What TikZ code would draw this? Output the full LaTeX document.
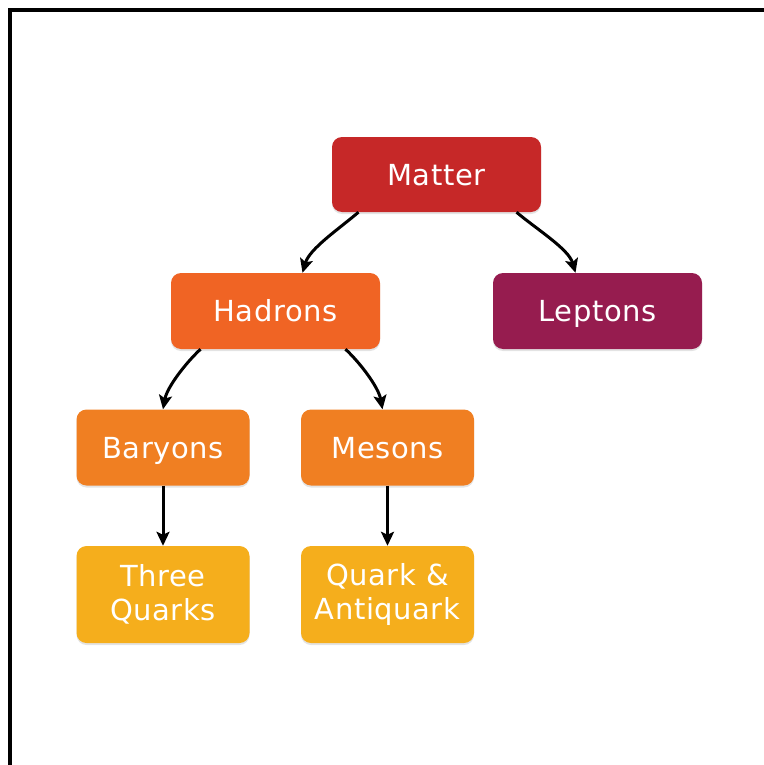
\documentclass[tikz,border=0pt]{standalone}
\usepackage{fontspec}
\setmainfont{DejaVu Sans}[LetterSpace=2]
\usetikzlibrary{arrows.meta,shadows,calc}
\definecolor{cMatter}{RGB}{198,40,40}
\definecolor{cHadron}{RGB}{240,100,36}
\definecolor{cLepton}{RGB}{150,28,79}
\definecolor{cMid}{RGB}{240,127,34}
\definecolor{cQuark}{RGB}{245,174,28}
\tikzset{
  box/.style={rounded corners=10pt, text=white, align=center,
    font=\fontsize{29}{34}\selectfont, inner sep=0pt,
    drop shadow={opacity=0.22, shadow xshift=0pt, shadow yshift=-2pt}},
  oneline/.style={box, text height=21pt, text depth=0pt},
  wide/.style={oneline, minimum width=209pt, minimum height=76pt},
  narrow/.style={oneline, minimum width=173pt, minimum height=76pt},
  tall/.style={box, minimum width=173pt, minimum height=97pt},
  link/.style={-{Stealth[length=14pt,width=13pt,inset=3pt]}, line width=3pt, black}
}
\begin{document}
\begin{tikzpicture}[x=1pt,y=-1pt]
  \useasboundingbox (0,0) rectangle (763,765);
  % outer frame (runs past the right and bottom edges)
  \draw[line width=4pt] (10,10) rectangle (790,790);

  \node[wide, fill=cMatter, minimum height=75pt] (matter) at (436.5,174.5) {Matter};
  \node[wide, fill=cHadron] (hadrons) at (275.5,311) {Hadrons};
  \node[wide, fill=cLepton] (leptons) at (597.5,311) {Leptons};
  \node[narrow, fill=cMid] (baryons) at (163,447.5) {Baryons};
  \node[narrow, fill=cMid] (mesons) at (387.5,447.5) {Mesons};
  \node[tall, fill=cQuark] (three) at (163,594.5) {Three\\Quarks};
  \node[tall, fill=cQuark] (qaq) at (387.5,594.5) {Quark \&\\Antiquark};

  % curved links: one smooth bend each, steepening towards the target
  \draw[link] ($(matter.south)+(-78,0)$) .. controls ($(matter.south)+(-98,17)$)
      and ($(hadrons.north)+(34,-24)$) .. ($(hadrons.north)+(27,0)$);
  \draw[link] ($(matter.south)+(80,0)$) .. controls ($(matter.south)+(100,17)$)
      and ($(leptons.north)+(-29,-24)$) .. ($(leptons.north)+(-22,0)$);
  \draw[link] ($(hadrons.south)+(-75,0)$) .. controls ($(hadrons.south)+(-90,14)$)
      and ($(baryons.north)+(4,-22)$) .. (baryons.north);
  \draw[link] ($(hadrons.south)+(70,0)$) .. controls ($(hadrons.south)+(85,14)$)
      and ($(mesons.north)+(-9,-22)$) .. ($(mesons.north)+(-5,0)$);
  \draw[link] (baryons.south) -- (three.north);
  \draw[link] (mesons.south) -- (qaq.north);
\end{tikzpicture}
\end{document}
